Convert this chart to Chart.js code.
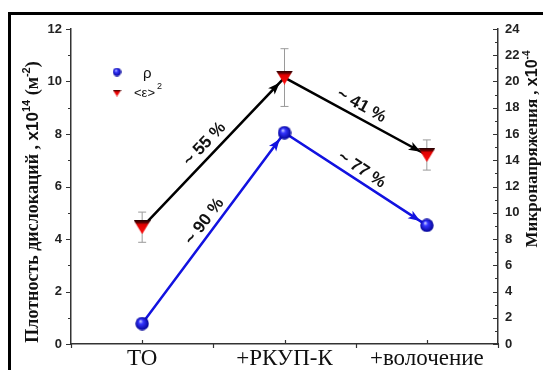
<!DOCTYPE html>
<html>
<head>
<meta charset="utf-8">
<script src="https://cdn.jsdelivr.net/npm/chart.js@4.4.1/dist/chart.umd.min.js"></script>
<style>
html, body { margin: 0; padding: 0; background: #fff; }
#wrap { width: 547px; height: 370px; position: relative; }
</style>
</head>
<body>
<div id="wrap"><canvas id="chart"></canvas></div>
<script>
var categories = ['ТО', '+РКУП-К', '+волочение'];
var rho = [0.78, 8.05, 4.52];
var eps2 = [8.9, 20.3, 14.4];
var eps2Err = [1.15, 2.2, 1.15];
var rhoChange = ['~ 90 %', '~ 77 %'];
var eps2Change = ['~ 55 %', '~ 41 %'];

var SERIF = '"Liberation Serif", "Times New Roman", serif';
var SANS = '"Liberation Sans", Arial, sans-serif';

// marker pictures (Origin style ball and down triangle)
function makeBall(d) {
	var c = document.createElement('canvas');
	c.width = d; c.height = d;
	var g = c.getContext('2d');
	var r = d / 2;
	var grad = g.createRadialGradient(r * 0.75, r * 0.65, r * 0.05, r, r, r);
	grad.addColorStop(0, '#c8ccff');
	grad.addColorStop(0.3, '#3535ff');
	grad.addColorStop(1, '#000090');
	g.fillStyle = grad;
	g.beginPath();
	g.arc(r, r, r - 0.3, 0, Math.PI * 2);
	g.fill();
	return c;
}

function makeTri(w, h) {
	var c = document.createElement('canvas');
	c.width = w; c.height = h;
	var g = c.getContext('2d');
	g.beginPath();
	g.moveTo(0, 0);
	g.lineTo(w, 0);
	g.lineTo(w / 2, h);
	g.closePath();
	var grad = g.createLinearGradient(0, 0, 0, h);
	grad.addColorStop(0, '#200000');
	grad.addColorStop(0.2, '#700000');
	grad.addColorStop(0.3, '#e00000');
	grad.addColorStop(1, '#ff1010');
	g.fillStyle = grad;
	g.fill();
	return c;
}

var ballBig = makeBall(14);
var ballSmall = makeBall(9);
var triBig = makeTri(17, 14);
var triSmall = makeTri(9, 7);

function arrowHead(ctx, x0, y0, x1, y1, gap, color) {
	var a = Math.atan2(y1 - y0, x1 - x0);
	var tx = x1 - Math.cos(a) * gap, ty = y1 - Math.sin(a) * gap;
	ctx.save();
	ctx.translate(tx, ty);
	ctx.rotate(a);
	ctx.beginPath();
	ctx.moveTo(0, 0);
	ctx.lineTo(-12, -4.5);
	ctx.lineTo(-9, 0);
	ctx.lineTo(-12, 4.5);
	ctx.closePath();
	ctx.fillStyle = color;
	ctx.fill();
	ctx.restore();
}

function segLabel(ctx, x0, y0, x1, y1, text, off) {
	var a = Math.atan2(y1 - y0, x1 - x0);
	var mx = (x0 + x1) / 2 + Math.sin(a) * off;
	var my = (y0 + y1) / 2 - Math.cos(a) * off;
	ctx.save();
	ctx.translate(mx, my);
	ctx.rotate(a);
	ctx.font = 'bold 17px ' + SANS;
	ctx.fillStyle = '#111';
	ctx.textAlign = 'center';
	ctx.textBaseline = 'middle';
	ctx.fillText(text, 0, 0);
	ctx.restore();
}

// rotated title made of pieces: [text, font, rise]
function vertText(ctx, pieces, cx, cy) {
	var total = 0;
	pieces.forEach(function(p) {
		ctx.font = p[1];
		p.w = ctx.measureText(p[0]).width;
		total += p.w;
	});
	ctx.save();
	ctx.translate(cx, cy);
	ctx.rotate(-Math.PI / 2);
	ctx.fillStyle = '#111';
	ctx.textAlign = 'left';
	ctx.textBaseline = 'middle';
	var x = -total / 2;
	pieces.forEach(function(p) {
		ctx.font = p[1];
		ctx.fillText(p[0], x, -p[2]);
		x += p.w;
	});
	ctx.restore();
}

var decor = {
	id: 'decor',
	beforeDraw: function(chart) {
		var ctx = chart.ctx;
		ctx.save();
		ctx.fillStyle = '#000';
		ctx.fillRect(8, 12, 535, 3);
		ctx.fillRect(8, 12, 3, 360);
		ctx.restore();
	},
	beforeDatasetsDraw: function(chart) {
		var ctx = chart.ctx, xs = chart.scales.x, y2 = chart.scales.y2;
		ctx.save();
		ctx.strokeStyle = '#9a9a9a';
		ctx.lineWidth = 1;
		eps2.forEach(function(v, i) {
			var x = xs.getPixelForValue(i);
			var yt = y2.getPixelForValue(v + eps2Err[i]);
			var yb = y2.getPixelForValue(v - eps2Err[i]);
			ctx.beginPath();
			ctx.moveTo(x, yt); ctx.lineTo(x, yb);
			ctx.moveTo(x - 4, yt); ctx.lineTo(x + 4, yt);
			ctx.moveTo(x - 4, yb); ctx.lineTo(x + 4, yb);
			ctx.stroke();
		});
		ctx.restore();
	},
	afterDatasetsDraw: function(chart) {
		var ctx = chart.ctx, xs = chart.scales.x, y = chart.scales.y, y2 = chart.scales.y2;
		var i, x0, x1;
		for (i = 0; i < 2; i++) {
			x0 = xs.getPixelForValue(i);
			x1 = xs.getPixelForValue(i + 1);
			var b0 = y2.getPixelForValue(eps2[i]), b1 = y2.getPixelForValue(eps2[i + 1]);
			var r0 = y.getPixelForValue(rho[i]), r1 = y.getPixelForValue(rho[i + 1]);
			arrowHead(ctx, x0, b0, x1, b1, 7, '#000');
			arrowHead(ctx, x0, r0, x1, r1, 8, '#1212e0');
			segLabel(ctx, x0, b0, x1, b1, eps2Change[i], 12);
			segLabel(ctx, x0, r0, x1, r1, rhoChange[i], 11);
		}
	},
	afterDraw: function(chart) {
		var ctx = chart.ctx, a = chart.chartArea;
		var xs = chart.scales.x, y = chart.scales.y, y2 = chart.scales.y2;
		var v, p;
		ctx.save();
		ctx.strokeStyle = '#333';
		ctx.lineWidth = 1.2;
		ctx.beginPath();
		for (v = 0; v <= 12; v++) {
			p = Math.round(y.getPixelForValue(v)) + 0.5;
			ctx.moveTo(a.left - (v % 2 ? 3 : 5), p); ctx.lineTo(a.left, p);
		}
		for (v = 0; v <= 24; v++) {
			p = Math.round(y2.getPixelForValue(v)) + 0.5;
			ctx.moveTo(a.right - (v % 2 ? 3 : 5), p); ctx.lineTo(a.right, p);
		}
		for (v = -0.5; v <= 2.5; v += 0.5) {
			p = Math.round(xs.getPixelForValue(v)) + 0.5;
			if (v % 1) {
				ctx.moveTo(p, a.bottom); ctx.lineTo(p, a.bottom + 4);
			} else {
				ctx.moveTo(p, a.bottom); ctx.lineTo(p, a.bottom - 4);
			}
		}
		ctx.stroke();

		// legend
		ctx.drawImage(ballSmall, 117 - 4.5, 72 - 4.5);
		ctx.drawImage(triSmall, 117 - 4.5, 93 - 3.5);
		ctx.fillStyle = '#111';
		ctx.textBaseline = 'middle';
		ctx.textAlign = 'left';
		ctx.font = '15px ' + SANS;
		ctx.fillText('ρ', 143, 74);
		ctx.font = '13px ' + SANS;
		ctx.fillText('<ε>', 134, 93);
		var w = ctx.measureText('<ε>').width;
		ctx.font = '9px ' + SANS;
		ctx.fillText('2', 134 + w + 2, 87);
		ctx.restore();

		vertText(ctx, [
			['Плотность дислокаций , ', 'bold 18px ' + SERIF, 0],
			['x10', 'bold 17px ' + SANS, 0],
			['14', 'bold 11px ' + SANS, 6],
			[' (м', 'bold 18px ' + SERIF, 0],
			['-2', 'bold 11px ' + SANS, 6],
			[')', 'bold 18px ' + SERIF, 0]
		], 33, 202);
		vertText(ctx, [
			['Микронапряжения , ', 'bold 17px ' + SERIF, 0],
			['x10', 'bold 16px ' + SANS, 0],
			['-4', 'bold 10px ' + SANS, 6]
		], 533, 149);
	}
};

new Chart(document.getElementById('chart'), {
	type: 'line',
	data: {
		labels: categories,
		datasets: [{
			label: 'ρ',
			data: rho,
			yAxisID: 'y',
			borderColor: '#1212e0',
			borderWidth: 2.5,
			pointStyle: ballBig,
			pointRadius: 7,
			pointHoverRadius: 7,
			tension: 0
		}, {
			label: '<ε>²',
			data: eps2,
			yAxisID: 'y2',
			borderColor: '#000',
			borderWidth: 2.5,
			pointStyle: triBig,
			pointRadius: 8,
			pointHoverRadius: 8,
			tension: 0
		}]
	},
	options: {
		responsive: true,
		maintainAspectRatio: false,
		animation: false,
		layout: { padding: { top: 29, left: 0, right: 0, bottom: 0 } },
		plugins: {
			legend: { display: false },
			tooltip: { enabled: false }
		},
		scales: {
			x: {
				type: 'category',
				offset: true,
				grid: { display: false, drawTicks: false },
				border: { display: true, color: '#333', width: 1.5 },
				ticks: {
					color: '#111',
					padding: 1,
					font: { family: SERIF, size: 23 },
					maxRotation: 0,
					autoSkip: false
				},
				afterFit: function(s) { s.height = 26; }
			},
			y: {
				position: 'left',
				min: 0,
				max: 12,
				grid: { display: false, drawTicks: false },
				border: { display: true, color: '#333', width: 1.5 },
				ticks: {
					stepSize: 2,
					color: '#222',
					padding: 9,
					font: { family: SANS, size: 13, weight: 'bold' }
				},
				afterFit: function(s) { s.width = 71; }
			},
			y2: {
				position: 'right',
				min: 0,
				max: 24,
				grid: { display: false, drawTicks: false },
				border: { display: true, color: '#333', width: 1.5 },
				ticks: {
					stepSize: 2,
					color: '#222',
					padding: 7,
					font: { family: SANS, size: 13, weight: 'bold' }
				},
				afterFit: function(s) { s.width = 49; }
			}
		}
	},
	plugins: [decor]
});
</script>
</body>
</html>
